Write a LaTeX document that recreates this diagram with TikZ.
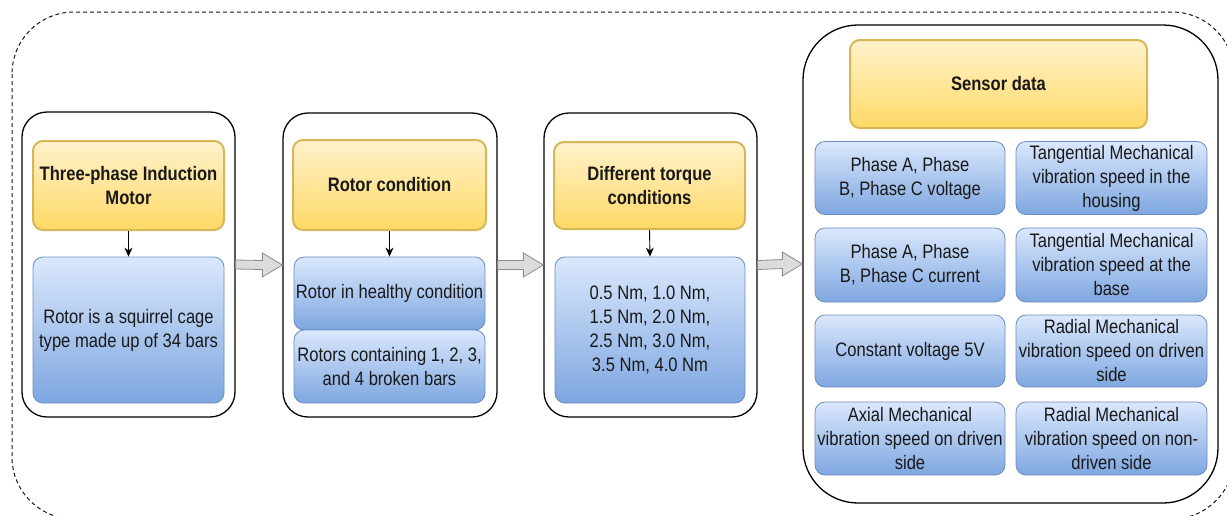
\documentclass[tikz,border=0pt]{standalone}
\usepackage{fontspec}
\setmainfont{Liberation Sans}[FakeStretch=0.85]
\usetikzlibrary{calc,arrows.meta}
\definecolor{yfillA}{HTML}{FFF2CC}
\definecolor{yfillB}{HTML}{FFD966}
\definecolor{yline}{HTML}{D6B656}
\definecolor{bfillA}{HTML}{DAE8FC}
\definecolor{bfillB}{HTML}{7EA6E0}
\definecolor{bline}{HTML}{6C8EBF}
\definecolor{gfill}{HTML}{DCDCDC}
\definecolor{gline}{HTML}{8C8C8C}
\newcommand\fsz{\fontsize{19.5}{24}\selectfont}
\newcommand\blkarrow[2]{%
  \draw[garrow] ($(#1.east)+(0,-4.5)$) -- ($(#2.west)+(-20,-4.5)$) -- ($(#2.west)+(-20,-12)$) -- (#2.west) -- ($(#2.west)+(-20,12)$) -- ($(#2.west)+(-20,4.5)$) -- ($(#1.east)+(0,4.5)$) -- cycle;}
\tikzset{
  frame/.style={draw=black, line width=1.3pt, rounded corners=25pt, fill=white, inner sep=0pt},
  ybox/.style={draw=yline, line width=2pt, top color=yfillA, bottom color=yfillB, rounded corners=10pt, inner sep=0pt, align=center, font=\bfseries\fsz, text=black!90},
  bbox/.style={draw=bline, line width=0.8pt, top color=bfillA, bottom color=bfillB, rounded corners=10pt, inner sep=0pt, align=center, font=\fsz, text=black!90},
  garrow/.style={draw=gline, fill=gfill, line width=0.8pt, line join=miter},
  smallarrow/.style={-{Stealth[length=9pt,width=8pt]}, line width=0.9pt, draw=black}
}
\begin{document}
\begin{tikzpicture}[x=1pt,y=-1pt]
\useasboundingbox (0,0) rectangle (1227,515);
\begin{scope}
\clip (0,0) rectangle (1227,515);
\draw[dash pattern=on 4pt off 3pt, line width=1pt, rounded corners=62pt, draw=black!90] (12,12) rectangle (1234,519);
\end{scope}
% frames
\node[frame, minimum width=213, minimum height=305] (b1) at (128.5,264.5) {};
\node[frame, minimum width=214, minimum height=304] (b2) at (390,265) {};
\node[frame, minimum width=213, minimum height=304] (b3) at (650.5,265) {};
\node[frame, minimum width=415, minimum height=478, rounded corners=55pt] (b4) at (1010.5,264) {};
% stage 1
\node[ybox, minimum width=191, minimum height=89] (y1) at (128.5,185.5) {Three-phase Induction\\Motor};
\node[bbox, minimum width=191, minimum height=146] (u1) at (128.5,330) {Rotor is a squirrel cage\\type made up of 34 bars};
% stage 2
\node[ybox, minimum width=193, minimum height=90] (y2) at (389.5,185) {Rotor condition};
\node[bbox, minimum width=191, minimum height=73] (u2a) at (389.5,293.5) {Rotor in healthy condition};
\node[bbox, minimum width=191, minimum height=73] (u2b) at (389.5,366.5) {Rotors containing 1, 2, 3,\\and 4 broken bars};
% stage 3
\node[ybox, minimum width=191, minimum height=87] (y3) at (649.5,185.5) {Different torque\\conditions};
\node[bbox, minimum width=190, minimum height=146] (u3) at (650,330) {0.5 Nm, 1.0 Nm,\\1.5 Nm, 2.0 Nm,\\2.5 Nm, 3.0 Nm,\\3.5 Nm, 4.0 Nm};
% stage 4
\node[ybox, minimum width=297, minimum height=88] (y4) at (998.5,84) {Sensor data};
\node[bbox, minimum width=190, minimum height=73] (s11) at (910,178) {Phase A, Phase\\B, Phase C voltage};
\node[bbox, minimum width=191, minimum height=73] (s12) at (1111.5,178) {Tangential Mechanical\\vibration speed in the\\housing};
\node[bbox, minimum width=190, minimum height=74] (s21) at (910,265) {Phase A, Phase\\B, Phase C current};
\node[bbox, minimum width=191, minimum height=74] (s22) at (1111.5,265) {Tangential Mechanical\\vibration speed at the\\base};
\node[bbox, minimum width=190, minimum height=72] (s31) at (910,351) {Constant voltage 5V};
\node[bbox, minimum width=191, minimum height=72] (s32) at (1111.5,351) {Radial Mechanical\\vibration speed on driven\\side};
\node[bbox, minimum width=190, minimum height=73] (s41) at (910,438.5) {Axial Mechanical\\vibration speed on driven\\side};
\node[bbox, minimum width=191, minimum height=73] (s42) at (1111.5,438.5) {Radial Mechanical\\vibration speed on non-\\driven side};
% small arrows
\draw[smallarrow] (y1.south) -- (u1.north);
\draw[smallarrow] (y2.south) -- (u2a.north);
\draw[smallarrow] (y3.south) -- (u3.north);
% block arrows
\blkarrow{b1}{b2}
\blkarrow{b2}{b3}
\blkarrow{b3}{b4}
\end{tikzpicture}
\end{document}
